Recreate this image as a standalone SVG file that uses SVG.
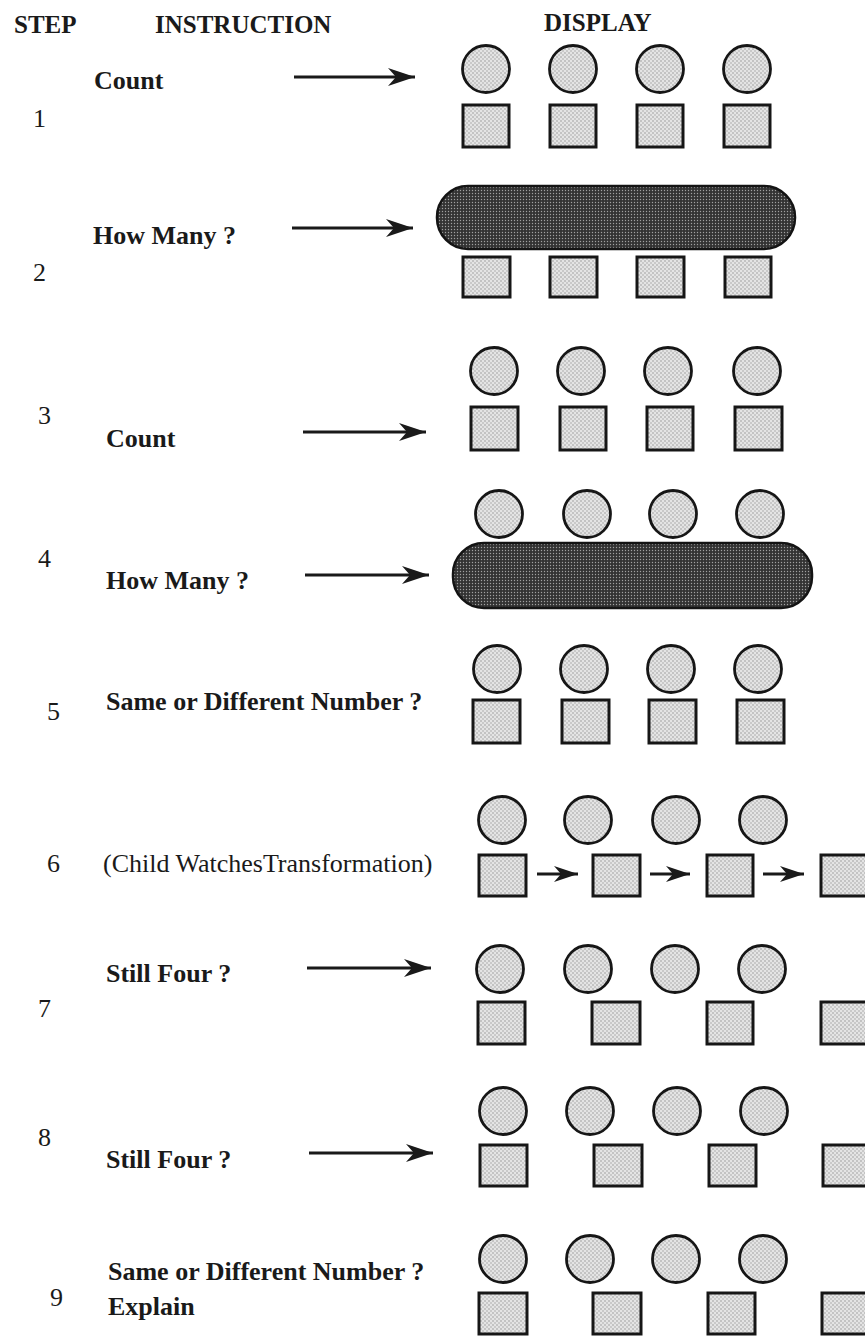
<svg xmlns="http://www.w3.org/2000/svg" width="865" height="1336" viewBox="0 0 865 1336">
<defs>
<pattern id="lt" width="4" height="4" patternUnits="userSpaceOnUse">
<rect width="4" height="4" fill="#e4e4e4"/>
<circle cx="1" cy="1" r="0.7" fill="#8a8a8a"/>
<circle cx="3" cy="3" r="0.7" fill="#9a9a9a"/>
</pattern>
<pattern id="dk" width="3" height="3" patternUnits="userSpaceOnUse">
<rect width="3" height="3" fill="#333333"/>
<circle cx="1.5" cy="1.5" r="0.7" fill="#a0a0a0"/>
</pattern>
<marker id="ah" markerUnits="userSpaceOnUse" viewBox="-28 -10 30 20" refX="0" refY="0" markerWidth="30" markerHeight="20" orient="auto">
<path d="M0,0 L-27,-9 L-19,0 L-27,9 Z" fill="#1a1a1a"/>
</marker>
<marker id="ahs" markerUnits="userSpaceOnUse" viewBox="-26 -10 28 20" refX="0" refY="0" markerWidth="28" markerHeight="20" orient="auto">
<path d="M0,0 L-24,-8 L-17,0 L-24,8 Z" fill="#1a1a1a"/>
</marker>
</defs>
<style>
.h{font-family:"Liberation Serif","Times New Roman",serif;font-weight:bold;font-size:25px;fill:#1a1a1a}
.t{font-family:"Liberation Serif","Times New Roman",serif;font-weight:bold;font-size:26px;fill:#1a1a1a}
.r{font-family:"Liberation Serif","Times New Roman",serif;font-size:26px;fill:#1a1a1a}
.n{font-family:"Liberation Serif","Times New Roman",serif;font-size:26px;fill:#1a1a1a}
.c{fill:url(#lt);stroke:#161616;stroke-width:2.8}
.s{fill:url(#lt);stroke:#161616;stroke-width:3}
.p{fill:url(#dk);stroke:#141414;stroke-width:2.5}
.a{stroke:#1a1a1a;stroke-width:2.8;fill:none;marker-end:url(#ah)}
.as{stroke:#1a1a1a;stroke-width:3;fill:none;marker-end:url(#ahs)}
</style>
<rect width="865" height="1336" fill="#ffffff"/>
<g id="header">
<text class="h" x="14" y="33">STEP</text>
<text class="h" x="155" y="33">INSTRUCTION</text>
<text class="h" x="544" y="31">DISPLAY</text>
</g>
<g id="step1">
<text class="n" x="33" y="127">1</text>
<text class="t" x="94" y="89">Count</text>
<circle class="c" cx="486" cy="69" r="23.5"/>
<circle class="c" cx="573" cy="69" r="23.5"/>
<circle class="c" cx="660" cy="69" r="23.5"/>
<circle class="c" cx="747" cy="69" r="23.5"/>
<rect class="s" x="463" y="105" width="46" height="42"/>
<rect class="s" x="550" y="105" width="46" height="42"/>
<rect class="s" x="637" y="105" width="46" height="42"/>
<rect class="s" x="724" y="105" width="46" height="42"/>
</g>
<g id="step2">
<text class="n" x="33" y="281">2</text>
<text class="t" x="93" y="244">How Many ?</text>
<rect class="p" x="437" y="186" width="358" height="63" rx="31"/>
<rect class="s" x="463" y="257" width="47" height="40"/>
<rect class="s" x="550" y="257" width="47" height="40"/>
<rect class="s" x="637" y="257" width="47" height="40"/>
<rect class="s" x="725" y="257" width="46" height="40"/>
</g>
<g id="step3">
<text class="n" x="38" y="424">3</text>
<text class="t" x="106" y="447">Count</text>
<circle class="c" cx="494" cy="371" r="23.5"/>
<circle class="c" cx="581" cy="371" r="23.5"/>
<circle class="c" cx="668" cy="371" r="23.5"/>
<circle class="c" cx="757" cy="371" r="23.5"/>
<rect class="s" x="471" y="407" width="47" height="43"/>
<rect class="s" x="560" y="407" width="46" height="43"/>
<rect class="s" x="647" y="407" width="46" height="43"/>
<rect class="s" x="735" y="407" width="47" height="43"/>
</g>
<g id="step4">
<text class="n" x="38" y="567">4</text>
<text class="t" x="106" y="589">How Many ?</text>
<circle class="c" cx="499" cy="514" r="23.5"/>
<circle class="c" cx="587" cy="514" r="23.5"/>
<circle class="c" cx="673" cy="514" r="23.5"/>
<circle class="c" cx="760" cy="514" r="23.5"/>
<rect class="p" x="453" y="543" width="359" height="65" rx="31"/>
</g>
<g id="step5">
<text class="n" x="47" y="720">5</text>
<text class="t" x="106" y="710">Same or Different Number ?</text>
<circle class="c" cx="497" cy="669" r="23.5"/>
<circle class="c" cx="584" cy="669" r="23.5"/>
<circle class="c" cx="671" cy="669" r="23.5"/>
<circle class="c" cx="758" cy="669" r="23.5"/>
<rect class="s" x="473" y="700" width="47" height="43"/>
<rect class="s" x="562" y="700" width="47" height="43"/>
<rect class="s" x="649" y="700" width="47" height="43"/>
<rect class="s" x="737" y="700" width="47" height="43"/>
</g>
<g id="step6">
<text class="n" x="47" y="872">6</text>
<text class="r" x="103" y="872">(Child WatchesTransformation)</text>
<circle class="c" cx="502" cy="820" r="23.5"/>
<circle class="c" cx="588" cy="820" r="23.5"/>
<circle class="c" cx="676" cy="820" r="23.5"/>
<circle class="c" cx="763" cy="820" r="23.5"/>
<rect class="s" x="479" y="855" width="47" height="41"/>
<rect class="s" x="593" y="855" width="47" height="41"/>
<rect class="s" x="707" y="855" width="46" height="41"/>
<rect class="s" x="821" y="855" width="47" height="41"/>
</g>
<g id="step7">
<text class="n" x="38" y="1017">7</text>
<text class="t" x="106" y="982">Still Four ?</text>
<circle class="c" cx="500" cy="969" r="23.5"/>
<circle class="c" cx="588" cy="969" r="23.5"/>
<circle class="c" cx="675" cy="969" r="23.5"/>
<circle class="c" cx="762" cy="969" r="23.5"/>
<rect class="s" x="478" y="1002" width="47" height="42"/>
<rect class="s" x="592" y="1002" width="48" height="42"/>
<rect class="s" x="707" y="1002" width="46" height="42"/>
<rect class="s" x="821" y="1002" width="47" height="42"/>
</g>
<g id="step8">
<text class="n" x="38" y="1146">8</text>
<text class="t" x="106" y="1168">Still Four ?</text>
<circle class="c" cx="503" cy="1111" r="23.5"/>
<circle class="c" cx="590" cy="1111" r="23.5"/>
<circle class="c" cx="677" cy="1111" r="23.5"/>
<circle class="c" cx="764" cy="1111" r="23.5"/>
<rect class="s" x="480" y="1145" width="47" height="41"/>
<rect class="s" x="594" y="1145" width="48" height="41"/>
<rect class="s" x="709" y="1145" width="47" height="41"/>
<rect class="s" x="823" y="1145" width="47" height="41"/>
</g>
<g id="step9">
<text class="n" x="50" y="1306">9</text>
<text class="t" x="108" y="1280">Same or Different Number ?</text>
<text class="t" x="108" y="1315">Explain</text>
<circle class="c" cx="503" cy="1259" r="23.5"/>
<circle class="c" cx="590" cy="1259" r="23.5"/>
<circle class="c" cx="676" cy="1259" r="23.5"/>
<circle class="c" cx="763" cy="1259" r="23.5"/>
<rect class="s" x="479" y="1293" width="48" height="41"/>
<rect class="s" x="593" y="1293" width="48" height="41"/>
<rect class="s" x="708" y="1293" width="47" height="41"/>
<rect class="s" x="822" y="1293" width="47" height="41"/>
</g>
<g id="connectors">
<line class="a" x1="294" y1="77" x2="415" y2="77"/>
<line class="a" x1="292" y1="228" x2="413" y2="228"/>
<line class="a" x1="303" y1="432" x2="426" y2="432"/>
<line class="a" x1="305" y1="575" x2="429" y2="575"/>
<line class="a" x1="307" y1="968" x2="431" y2="968"/>
<line class="a" x1="309" y1="1153" x2="433" y2="1153"/>
<line class="as" x1="537" y1="874" x2="578" y2="874"/>
<line class="as" x1="650" y1="874" x2="690" y2="874"/>
<line class="as" x1="763" y1="874" x2="804" y2="874"/>
</g>
</svg>
